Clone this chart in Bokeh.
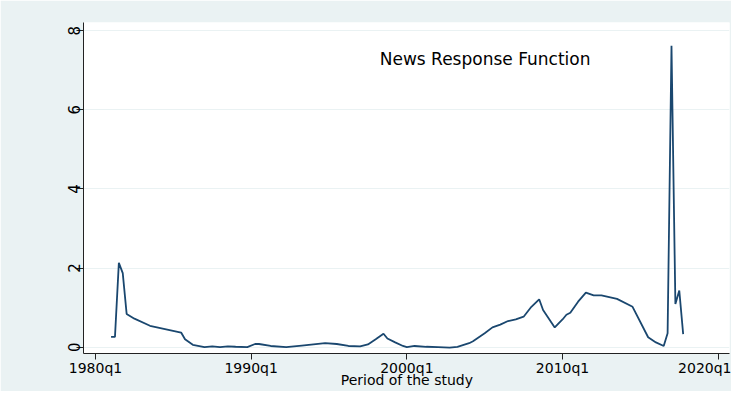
from bokeh.plotting import figure
from bokeh.models import Range1d, FixedTicker, Label, ColumnDataSource
from bokeh.embed import file_html
from bokeh.resources import INLINE

# ---- data ----
quarters = [
    "1981q1", "1981q2", "1981q3", "1981q4", "1982q1", "1982q3", "1983q3", "1985q3",
    "1985q4", "1986q2", "1987q1", "1987q3", "1988q1", "1988q3", "1989q1", "1989q4",
    "1990q2", "1990q3", "1991q2", "1992q2", "1993q2", "1994q1", "1994q4", "1995q3",
    "1996q2", "1997q1", "1997q3", "1998q1", "1998q3", "1998q4", "1999q2", "1999q4",
    "2000q1", "2000q3", "2001q2", "2002q1", "2002q4", "2003q2", "2004q1", "2004q2",
    "2005q1", "2005q3", "2006q1", "2006q3", "2007q1", "2007q3", "2008q1", "2008q3",
    "2008q4", "2009q3", "2010q1", "2010q2", "2010q3", "2011q1", "2011q3", "2012q1",
    "2012q3", "2013q3", "2014q3", "2015q3", "2016q1", "2016q3", "2016q4", "2017q1",
    "2017q2", "2017q3", "2017q4",
]
news_response = [
    0.26, 0.26, 2.13, 1.87, 0.84, 0.72, 0.54, 0.37,
    0.20, 0.06, 0.00, 0.02, 0.00, 0.02, 0.01, 0.00,
    0.08, 0.08, 0.03, 0.00, 0.04, 0.07, 0.10, 0.08,
    0.03, 0.02, 0.07, 0.20, 0.34, 0.22, 0.12, 0.03,
    0.00, 0.03, 0.01, 0.00, -0.01, 0.01, 0.10, 0.15,
    0.35, 0.50, 0.57, 0.66, 0.70, 0.77, 1.02, 1.21,
    0.94, 0.50, 0.70, 0.82, 0.87, 1.15, 1.38, 1.31,
    1.31, 1.22, 1.02, 0.25, 0.12, 0.03, 0.35, 7.62,
    1.09, 1.43, 0.33,
]
xtick_years = [1980, 1990, 2000, 2010, 2020]
xtick_labels = ["1980q1", "1990q1", "2000q1", "2010q1", "2020q1"]
ytick_values = [0, 2, 4, 6, 8]
annotation_text = "News Response Function"
annotation_pos = (1998.26, 7.27)
x_title = "Period of the study"
x_title_under = 2000  # the axis title is centred under this tick


def q_to_year(q):
    y, qq = q.split("q")
    return int(y) + (int(qq) - 1) / 4.0


xs = [q_to_year(q) for q in quarters]
src = ColumnDataSource(dict(x=xs, y=news_response))

PANEL = "#EAF2F3"
LINE = "#1A476F"
FONT = "DejaVu Sans"

p = figure(
    width=731, height=391,
    output_backend="svg", toolbar_location=None,
    x_range=Range1d(1979.229, 2020.726),
    y_range=Range1d(-0.16, 8.205),
    min_border_left=83, min_border_right=2,
    min_border_top=22, min_border_bottom=35,
)
p.border_fill_color = PANEL
p.background_fill_color = "white"
p.outline_line_color = None

p.line("x", "y", source=src, line_color=LINE, line_width=1.8)

# grid
p.xgrid.grid_line_color = None
p.ygrid.grid_line_color = PANEL
p.ygrid.grid_line_width = 1.2
p.ygrid.ticker = FixedTicker(ticks=ytick_values)

# x axis (axis title shares the space below the centre tick label)
overrides = {}
for yr, lab in zip(xtick_years, xtick_labels):
    overrides[yr] = lab + "\n" + x_title if yr == x_title_under else lab
xa = p.xaxis[0]
xa.ticker = FixedTicker(ticks=xtick_years, minor_ticks=[])
xa.major_label_overrides = overrides
xa.major_label_text_font = FONT
xa.major_label_text_font_size = "14px"
xa.major_label_text_line_height = 0.8
xa.major_label_text_color = "black"
xa.major_label_standoff = 0
xa.major_tick_out = 6
xa.major_tick_in = 0
xa.minor_tick_out = 0
xa.minor_tick_in = 0
xa.axis_line_color = "#222222"
xa.major_tick_line_color = "#222222"

# y axis
ya = p.yaxis[0]
ya.ticker = FixedTicker(ticks=ytick_values, minor_ticks=[])
ya.major_label_orientation = "vertical"
ya.major_label_text_font = FONT
ya.major_label_text_font_size = "15px"
ya.major_label_text_color = "black"
ya.major_label_standoff = -4
ya.major_tick_out = 7
ya.major_tick_in = 0
ya.minor_tick_out = 0
ya.minor_tick_in = 0
ya.axis_line_color = "#222222"
ya.major_tick_line_color = "#222222"

p.add_layout(Label(
    x=annotation_pos[0], y=annotation_pos[1], text=annotation_text,
    text_font=FONT, text_font_size="17px", text_color="black",
    text_baseline="alphabetic", text_align="left",
))

open("out.html", "w").write(file_html(p, INLINE))
